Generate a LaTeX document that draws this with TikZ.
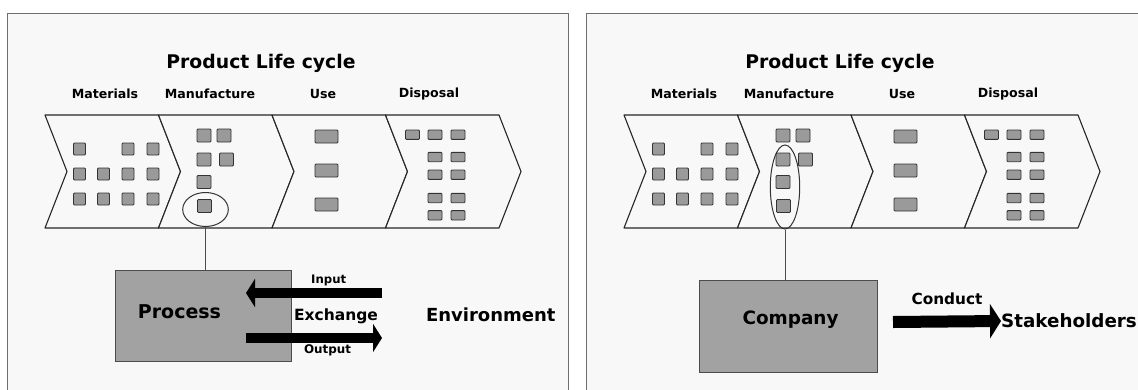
\documentclass[tikz,border=0pt]{standalone}
\usepackage{fontspec}
\setmainfont{DejaVu Sans}
\usetikzlibrary{arrows.meta,shapes.geometric}

\definecolor{panelbg}{HTML}{F8F8F8}
\definecolor{panelline}{HTML}{6E6E6E}
\definecolor{cellfill}{HTML}{9A9A9A}
\definecolor{boxfill}{HTML}{A2A2A2}

\tikzset{
  panel/.style={draw=panelline, line width=1pt, fill=panelbg},
  stage/.style={draw=black!85, line width=1.1pt, fill=panelbg, line join=round},
  cell/.style={draw=black!80, line width=0.9pt, fill=cellfill, rounded corners=1pt},
  ring/.style={ellipse, draw=black!80, line width=1pt, inner sep=0pt},
  link/.style={draw=black!70, line width=1pt},
  unit/.style={draw=black!70, line width=1pt, fill=boxfill, inner sep=0pt},
  fat/.style={line width=10pt, -{Triangle[width=28pt,length=9pt]}},
  txt/.style={inner sep=0pt, font=\bfseries}
}

\begin{document}
\begin{tikzpicture}[x=1pt,y=-1pt]
  \useasboundingbox (0,0) rectangle (1138,389);

  % Panels
  \draw[panel] (7.5,13.5) rectangle (568,400);
  \draw[panel] (586,13.5) rectangle (1160,400);

  % Life cycle chevrons (same in both panels)
  \foreach \dx/\p in {0/L,579/R} {
    \begin{scope}[xshift=\dx pt]
      \foreach \i in {0,...,3} {
        \pgfmathsetmacro\xa{45+113.5*\i}
        \draw[stage] (\xa,115) -- (\xa+113.5,115) -- (\xa+135.5,171.5)
          -- (\xa+113.5,228) -- (\xa,228) -- (\xa+22,171.5) -- cycle;
      }
      \node[txt, font=\bfseries\fontsize{18.8}{20}\selectfont] (title\p) at (261,63) {Product Life cycle};
      \node[txt, font=\bfseries\fontsize{12.6}{14}\selectfont] (mat\p) at (105,94) {Materials};
      \node[txt, font=\bfseries\fontsize{12.6}{14}\selectfont] (man\p) at (210,94) {Manufacture};
      \node[txt, font=\bfseries\fontsize{12.6}{14}\selectfont] (use\p) at (323,94) {Use};
      \node[txt, font=\bfseries\fontsize{12.6}{14}\selectfont] (dis\p) at (429,94) {Disposal};

      % Materials
      \foreach \x/\y in {79.5/149,128/149,153/149,79.5/174,103.5/174,128/174,153/174,
                         79.5/199,103.5/199,128/199,153/199}
        \draw[cell] (\x-6,\y-6) rectangle +(12,12);
      % Manufacture
      \foreach \x/\y in {204/135.5,224/135.5,204/159.5,226.5/159.5,204/182,204.5/206}
        \draw[cell] (\x-7,\y-6.5) rectangle +(14,13);
      % Use
      \foreach \y in {136.5,170.5,204.5}
        \draw[cell] (326.5-11.5,\y-6.5) rectangle +(23,13);
      % Disposal
      \foreach \x/\y in {412.5/134.7,435/134.7,458/134.7,435/157,458/157,435/174.7,458/174.7,
                         435/198,458/198,435/215.3,458/215.3}
        \draw[cell] (\x-7,\y-4.7) rectangle +(14,9.4);
    \end{scope}
  }

  % Left: process and environment
  \node[ring, minimum width=45.6pt, minimum height=34pt] (lring) at (205.5,209.5) {};
  \node[unit, minimum width=176pt, minimum height=91.5pt] (process) at (203,315.8) {};
  \node[txt, font=\bfseries\fontsize{19}{21}\selectfont] (proclbl) at (179.5,311.7) {Process};
  \draw[link] (lring.south) -- (lring.south |- process.north);

  \coordinate (inA) at (382,293);
  \coordinate (inB) at (246,293);
  \coordinate (outA) at (246,338);
  \coordinate (outB) at (382,338);
  \draw[fat] (inA) -- (inB);
  \draw[fat] (outA) -- (outB);
  \node[txt, font=\bfseries\fontsize{11.7}{13}\selectfont] (input) at (328.7,280) {Input};
  \node[txt, font=\bfseries\fontsize{15.5}{17}\selectfont] (exch) at (336,316) {Exchange};
  \node[txt, font=\bfseries\fontsize{11.9}{13}\selectfont] (output) at (327.5,350) {Output};
  \node[txt, font=\bfseries\fontsize{18}{20}\selectfont] (env) at (490.8,315) {Environment};

  % Right: company and stakeholders
  \node[ring, minimum width=29.4pt, minimum height=84pt] (rring) at (785,187) {};
  \node[unit, minimum width=178pt, minimum height=92pt] (company) at (788,326) {};
  \node[txt, font=\bfseries\fontsize{18.4}{20}\selectfont] (complbl) at (790.5,320) {Company};
  \draw[link] (rring.south) -- (rring.south |- company.north);

  \node[txt, anchor=west, font=\bfseries\fontsize{18.3}{20}\selectfont] (stake) at (1001,321) {Stakeholders};
  \coordinate (conA) at (893,322);
  \draw[line width=12pt, -{Triangle[width=34pt,length=11pt]}] (conA) -- (stake.west);
  \node[txt, font=\bfseries\fontsize{15.3}{17}\selectfont] (conduct) at (947,299) {Conduct};
\end{tikzpicture}
\end{document}
